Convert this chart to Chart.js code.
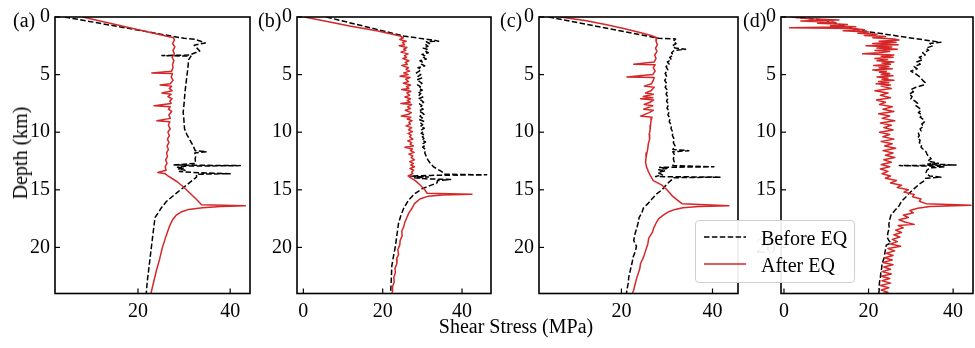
<!DOCTYPE html>
<html>
<head>
<meta charset="utf-8">
<script src="https://cdn.jsdelivr.net/npm/chart.js@4.4.1/dist/chart.umd.min.js"></script>
<style>
  body { margin: 0; background: #fff; }
  #wrap { position: relative; width: 975px; height: 348px; overflow: hidden;
          font-family: "Liberation Serif", "DejaVu Serif", serif; color: #000; }
  .panel { position: absolute; top: 0; }
  .lbl { position: absolute; font-size: 20px; line-height: 20px; white-space: nowrap; }
  #legend { position: absolute; left: 695px; top: 220px; width: 158px; height: 61px;
            border: 1px solid #cfcfcf; border-radius: 4px; background: rgba(255,255,255,0.92); }
</style>
</head>
<body>
<div id="wrap">
  <canvas id="pa" class="panel"></canvas>
  <canvas id="pb" class="panel"></canvas>
  <canvas id="pc" class="panel"></canvas>
  <canvas id="pd" class="panel"></canvas>

  <div class="lbl" style="left:13px;top:10px">(a)</div>
  <div class="lbl" style="left:258px;top:10px">(b)</div>
  <div class="lbl" style="left:500px;top:10px">(c)</div>
  <div class="lbl" style="left:743px;top:10px">(d)</div>

  <div class="lbl" style="left:20px;top:153px;transform:translate(-50%,-50%) rotate(-90deg)">Depth (km)</div>
  <div class="lbl" style="left:516px;top:326px;transform:translate(-50%,-50%)">Shear Stress (MPa)</div>

  <div id="legend">
    <svg width="158" height="61" style="position:absolute;left:0;top:0">
      <line x1="8" y1="16" x2="50" y2="16" stroke="#000" stroke-width="1.6" stroke-dasharray="5.5 2.4"/>
      <line x1="8" y1="43" x2="50" y2="43" stroke="rgb(214,39,40)" stroke-width="1.6"/>
    </svg>
    <div class="lbl" style="left:65px;top:7px">Before EQ</div>
    <div class="lbl" style="left:65px;top:34px">After EQ</div>
  </div>
</div>

<script>
// tick values
const depthTicks = [0, 5, 10, 15, 20];
const stressTicksA = [20, 40];
const stressTicksB = [0, 20, 40];
const stressTicksC = [20, 40];
const stressTicksD = [0, 20, 40];

// [depth km, shear stress MPa]
const beforeA = [[0,4.1],[1.85,30],[1.95,32.5],[2.25,34.6],[2.45,32.2],[2.7,32.8],[2.95,33.4],[3.3,31.2],[3.35,25.2],[3.4,31.5],[3.7,31.0],[4.5,30.8],[5.5,30.5],[6.5,30.2],[7.5,30.0],[8.3,29.8],[8.6,29.9],[9.7,30.1],[10.2,30.6],[10.7,31.3],[11.2,32.0],[11.6,32.4],[11.7,34.9],[11.8,32.3],[12.0,32.6],[12.3,32.4],[12.7,32.5],[12.85,27.7],[12.9,42.2],[12.95,29.0],[13.05,28.6],[13.1,30.0],[13.2,28.8],[13.3,30.2],[13.4,29.0],[13.5,32.0],[13.6,40.0],[13.65,32.7],[13.9,32.7],[14.5,30.8],[15.2,28.6],[16.0,26.2],[16.6,25.0],[17.0,24.4],[17.4,23.7],[19,23.2],[21,22.6],[23,22.0],[24,21.8]];
const afterA = [[0,8.0],[1.8,27.7],[2.0,27.9],[2.3,27.5],[2.6,28.0],[2.9,27.6],[3.2,27.9],[3.5,27.4],[3.8,27.8],[4.1,27.5],[4.4,27.6],[4.7,27.3],[4.85,23.0],[4.9,27.5],[5.2,27.2],[5.5,27.6],[5.8,27.0],[5.9,24.8],[6.0,27.3],[6.2,26.8],[6.4,27.4],[6.6,25.2],[6.7,27.2],[6.9,26.5],[7.1,27.4],[7.3,26.9],[7.5,27.2],[7.7,23.5],[7.8,27.0],[8.0,26.6],[8.2,27.3],[8.5,26.7],[8.8,27.0],[9.0,24.1],[9.1,26.9],[9.4,26.6],[9.7,27.0],[10.0,26.5],[10.3,26.8],[10.6,26.4],[10.9,26.7],[11.2,26.3],[11.5,26.6],[11.8,26.2],[12.1,26.4],[12.4,26.0],[12.7,26.3],[13.0,25.9],[13.3,26.1],[13.5,24.3],[13.6,25.9],[13.8,26.5],[14.3,28.5],[14.8,30.0],[15.3,31.3],[15.8,32.6],[16.3,33.8],[16.38,43.3],[16.45,38.0],[16.55,34.0],[16.7,31.0],[16.9,29.5],[17.2,28.3],[17.6,27.5],[18.2,26.8],[19.0,26.1],[20.0,25.3],[21.0,24.7],[22.0,24.0],[23.0,23.4],[24,22.8]];

const beforeB = [[0,5.8],[1.65,25.3],[2.05,33.5],[2.1,34.1],[2.15,31.0],[2.3,31.8],[2.4,30.9],[2.55,31.4],[2.7,30.2],[2.8,31.2],[2.95,30.6],[3.1,31.5],[3.25,29.9],[3.4,30.8],[3.5,30.3],[3.65,31.0],[3.8,29.4],[3.95,30.2],[4.1,29.8],[4.25,30.6],[4.4,28.9],[4.55,29.7],[4.7,29.2],[4.85,28.5],[5.0,29.6],[5.15,28.9],[5.3,29.8],[5.45,28.6],[5.6,29.3],[5.75,29.9],[5.9,28.8],[6.05,29.5],[6.2,29.1],[6.35,30.0],[6.5,28.9],[6.65,29.6],[6.8,29.2],[6.95,30.1],[7.1,29.0],[7.25,29.8],[7.4,30.3],[7.55,29.3],[7.7,29.9],[7.85,29.4],[8.0,30.2],[8.15,29.1],[8.3,29.9],[8.45,30.4],[8.6,29.4],[8.75,30.0],[8.9,29.2],[9.05,30.3],[9.2,29.6],[9.35,30.1],[9.5,29.5],[9.65,30.5],[9.8,29.8],[9.95,30.2],[10.1,29.7],[10.25,30.6],[10.4,30.0],[10.55,30.4],[10.7,29.9],[10.85,30.8],[11.0,30.2],[11.15,30.6],[11.3,30.1],[11.5,30.8],[11.8,30.6],[12.1,31.0],[12.4,31.4],[12.7,32.0],[13.0,32.8],[13.2,33.8],[13.45,35.0],[13.65,35.4],[13.7,46.2],[13.75,32.0],[13.8,27.0],[13.88,31.5],[13.95,28.0],[14.05,31.0],[14.1,37.1],[14.2,33.8],[14.4,33.7],[14.9,30.0],[15.3,28.2],[15.9,26.5],[16.6,25.3],[17.2,24.6],[17.9,24.0],[18.9,23.6],[19.9,23.2],[20.8,22.7],[21.6,22.3],[22.5,22.2],[23.3,22.1],[24,22.0]];
const afterB = [[0,0.3],[0.4,6.0],[0.8,12.0],[1.2,18.5],[1.65,24.4],[1.8,25.2],[1.95,24.3],[2.1,25.9],[2.2,25.0],[2.4,25.5],[2.5,24.2],[2.65,26.1],[2.8,25.3],[2.9,25.8],[3.05,24.6],[3.2,26.4],[3.35,25.5],[3.5,26.0],[3.6,25.1],[3.8,26.6],[3.95,25.7],[4.1,26.2],[4.2,24.8],[4.4,26.5],[4.55,25.9],[4.7,26.8],[4.85,25.3],[5.0,26.4],[5.15,24.4],[5.25,26.9],[5.4,25.8],[5.6,26.5],[5.75,25.2],[5.9,27.0],[6.05,26.0],[6.2,26.6],[6.3,24.8],[6.45,27.1],[6.6,26.1],[6.8,26.8],[6.95,25.6],[7.1,27.0],[7.25,26.2],[7.4,26.9],[7.5,24.6],[7.6,27.3],[7.8,26.3],[7.95,27.0],[8.1,25.7],[8.3,27.2],[8.45,26.5],[8.6,24.7],[8.7,27.1],[8.85,26.2],[9.0,27.4],[9.15,26.6],[9.3,27.0],[9.45,25.9],[9.6,27.3],[9.8,26.5],[9.95,27.5],[10.1,26.4],[10.25,27.2],[10.4,26.8],[10.6,27.6],[10.75,26.3],[10.9,27.3],[11.05,26.9],[11.2,27.7],[11.3,25.6],[11.45,27.5],[11.6,27.0],[11.75,27.9],[11.9,26.6],[12.05,27.6],[12.2,27.2],[12.4,28.0],[12.55,26.8],[12.7,27.7],[12.85,27.1],[13.0,28.0],[13.15,26.9],[13.3,27.8],[13.45,27.3],[13.6,27.6],[13.8,26.4],[13.95,27.0],[14.2,28.2],[14.6,29.5],[15.0,30.6],[15.3,31.2],[15.38,42.5],[15.45,35.0],[15.55,31.5],[15.8,29.4],[16.2,28.0],[16.6,27.4],[17.0,26.6],[17.4,26.1],[17.8,25.6],[18.2,25.3],[18.6,24.8],[19.0,24.9],[19.4,24.4],[19.8,24.3],[20.2,23.8],[20.6,24.0],[21.0,23.5],[21.4,23.6],[21.8,23.1],[22.2,23.2],[22.6,22.8],[23.0,22.9],[23.4,22.5],[23.8,22.5],[24,22.3]];

const beforeC = [[0,4.0],[1.85,28.2],[1.9,31.9],[2.1,31.4],[2.3,32.0],[2.5,31.2],[2.7,31.8],[2.8,34.1],[2.9,31.6],[3.1,31.0],[3.3,31.4],[3.5,30.6],[3.7,31.0],[3.9,30.1],[4.1,30.5],[4.3,29.8],[4.6,30.2],[4.9,29.6],[5.2,30.0],[5.5,29.5],[5.8,30.0],[6.1,29.6],[6.4,30.2],[6.7,29.8],[7.0,30.3],[7.3,29.9],[7.6,30.4],[7.9,30.0],[8.2,30.5],[8.5,30.2],[8.8,30.7],[9.1,30.5],[9.4,31.0],[9.7,30.9],[10.0,31.3],[10.3,31.2],[10.6,31.6],[10.9,31.4],[11.2,31.8],[11.5,31.3],[11.6,34.8],[11.7,31.3],[12.0,31.7],[12.3,31.4],[12.6,31.6],[12.9,31.3],[13.0,40.3],[13.05,28.4],[13.15,30.0],[13.25,28.2],[13.35,29.6],[13.5,28.0],[13.7,29.0],[13.85,27.5],[13.9,41.8],[13.95,31.5],[14.1,31.1],[14.5,30.0],[15.0,28.9],[15.4,27.6],[15.8,26.7],[16.2,25.8],[16.6,24.8],[17.0,24.5],[17.4,23.9],[17.8,23.7],[18.3,23.4],[18.8,23.0],[19.4,22.7],[19.9,23.3],[20.3,23.1],[20.8,22.6],[21.4,22.3],[21.9,22.0],[22.6,21.6],[23.1,21.5],[23.7,21.2],[24,21.1]];
const afterC = [[0,6.5],[0.3,12.0],[0.66,16.5],[1.0,20.5],[1.37,24.3],[1.6,26.5],[1.8,27.8],[2.1,27.6],[2.4,27.9],[2.7,27.5],[3.0,27.8],[3.3,27.3],[3.6,27.6],[3.9,27.2],[4.1,22.7],[4.15,27.4],[4.4,27.0],[4.7,27.4],[5.0,26.9],[5.2,21.2],[5.25,27.2],[5.5,27.0],[5.8,26.6],[6.0,25.0],[6.1,27.2],[6.4,26.5],[6.6,25.3],[6.7,27.0],[6.9,24.8],[7.0,26.9],[7.1,24.2],[7.2,27.1],[7.4,26.3],[7.6,25.0],[7.7,26.9],[8.0,24.9],[8.1,27.0],[8.3,26.1],[8.6,24.2],[8.7,26.7],[9.0,26.5],[9.4,26.4],[9.8,26.3],[10.2,26.1],[10.6,26.2],[11.0,25.9],[11.4,25.8],[11.8,25.6],[12.2,25.4],[12.6,25.3],[13.0,25.5],[13.4,25.9],[13.8,26.4],[14.2,27.0],[14.6,28.9],[15.0,30.0],[15.5,31.1],[15.9,32.3],[16.2,33.3],[16.38,43.6],[16.45,37.0],[16.55,33.5],[16.7,31.8],[16.9,30.4],[17.2,29.2],[17.5,28.2],[17.9,27.6],[18.3,27.1],[18.7,26.8],[19.2,26.0],[19.7,25.8],[20.3,25.3],[20.8,24.9],[21.4,24.2],[21.9,24.0],[22.6,23.4],[23.2,23.0],[23.7,22.7],[24,22.4]];

const beforeD = [[0,2.0],[0.25,9.5],[1.2,18.5],[2.2,37.1],[2.3,34.5],[2.5,35.2],[2.7,33.6],[2.9,34.2],[3.1,32.8],[3.3,33.4],[3.5,32.0],[3.7,32.8],[3.9,31.4],[4.1,32.2],[4.3,30.8],[4.5,31.5],[4.7,30.0],[4.9,31.0],[5.1,31.8],[5.3,32.4],[5.5,32.8],[5.7,33.4],[5.9,33.0],[6.1,31.2],[6.3,30.0],[6.5,30.6],[6.7,29.6],[6.9,30.3],[7.1,30.0],[7.3,31.0],[7.5,31.6],[7.7,31.2],[7.9,32.0],[8.1,32.4],[8.3,31.8],[8.5,32.6],[8.7,32.2],[8.9,33.0],[9.1,33.2],[9.3,32.6],[9.5,33.0],[9.7,32.2],[9.9,32.4],[10.1,31.8],[10.3,32.0],[10.5,31.6],[10.7,32.2],[10.9,32.0],[11.1,32.6],[11.3,32.4],[11.5,33.0],[11.7,33.6],[11.9,33.8],[12.1,34.2],[12.3,34.8],[12.5,34.0],[12.7,36.5],[12.75,34.0],[12.85,40.7],[12.9,27.3],[12.95,35.5],[13.0,38.0],[13.1,34.5],[13.3,33.8],[13.5,33.6],[13.8,34.4],[13.9,37.1],[14.0,33.5],[14.2,33.2],[14.5,32.0],[14.9,30.8],[15.3,29.6],[15.6,28.9],[16.0,27.8],[16.4,27.2],[16.8,26.2],[17.2,25.3],[17.6,25.0],[18.0,24.8],[18.3,24.9],[18.7,24.6],[19.1,24.4],[19.4,24.8],[19.6,25.3],[19.8,24.2],[20.2,24.0],[20.6,23.8],[20.9,23.7],[21.4,23.2],[21.8,23.1],[22.2,22.9],[22.6,22.8],[23.0,22.6],[23.4,22.5],[23.8,22.5],[24,22.4]];
const afterD = [[0,1.7],[0.15,6.0],[0.25,13.0],[0.35,4.0],[0.45,12.0],[0.55,8.0],[0.65,15.0],[0.75,11.0],[0.85,17.0],[0.94,1.3],[1.0,16.0],[1.1,19.0],[1.2,14.0],[1.3,20.0],[1.4,17.5],[1.5,22.0],[1.6,19.0],[1.7,24.0],[1.8,21.0],[1.9,26.0],[2.0,27.2],[2.1,22.5],[2.2,26.5],[2.3,21.0],[2.4,27.0],[2.5,19.4],[2.6,25.5],[2.7,22.0],[2.8,26.8],[2.9,21.5],[3.0,25.0],[3.1,22.4],[3.2,18.6],[3.3,26.0],[3.4,23.0],[3.5,25.8],[3.6,21.5],[3.7,24.5],[3.8,22.0],[3.9,26.0],[4.0,23.2],[4.1,25.2],[4.2,21.2],[4.3,24.8],[4.4,22.5],[4.5,25.6],[4.6,21.0],[4.7,24.2],[4.8,22.6],[4.9,25.0],[5.0,23.0],[5.1,25.8],[5.2,22.0],[5.3,24.6],[5.4,23.2],[5.5,26.0],[5.6,22.4],[5.7,24.8],[5.8,21.8],[5.9,25.2],[6.0,23.0],[6.2,25.4],[6.4,21.5],[6.6,24.6],[6.8,22.8],[7.0,25.2],[7.2,21.9],[7.4,24.0],[7.6,22.6],[7.8,25.6],[8.0,23.4],[8.2,26.0],[8.4,22.4],[8.6,25.0],[8.8,23.2],[9.0,26.2],[9.2,22.8],[9.4,25.4],[9.6,23.6],[9.8,25.8],[10.0,22.6],[10.2,25.0],[10.4,23.4],[10.6,26.0],[10.8,23.0],[11.0,25.6],[11.2,23.8],[11.4,26.4],[11.6,23.4],[11.8,25.8],[12.0,24.0],[12.2,26.2],[12.4,23.6],[12.6,25.4],[12.8,23.0],[13.0,25.0],[13.2,22.8],[13.4,24.6],[13.6,23.2],[13.8,25.2],[14.0,24.0],[14.2,26.6],[14.4,25.2],[14.6,27.8],[14.8,26.8],[15.0,29.4],[15.2,28.4],[15.4,30.8],[15.6,30.4],[15.8,32.4],[16.0,32.0],[16.2,33.6],[16.35,44.2],[16.45,34.5],[16.6,31.6],[16.8,29.8],[17.0,30.6],[17.2,28.2],[17.4,29.4],[17.6,27.2],[17.8,28.6],[18.0,30.8],[18.1,27.0],[18.3,28.2],[18.5,26.4],[18.7,27.8],[18.9,26.0],[19.1,27.4],[19.3,25.6],[19.5,26.8],[19.7,25.2],[19.9,27.6],[20.1,24.6],[20.3,26.2],[20.5,24.2],[20.7,25.8],[20.9,23.8],[21.1,25.6],[21.3,23.4],[21.5,25.8],[21.7,23.6],[21.9,25.2],[22.1,23.2],[22.3,25.4],[22.5,23.0],[22.7,25.0],[22.9,23.2],[23.1,25.2],[23.3,22.8],[23.5,24.8],[23.7,23.0],[23.9,24.6],[24,23.4]];

const FONT = { family: '"Liberation Serif", "DejaVu Serif", serif', size: 20 };
const RED = 'rgb(214,39,40)';

// frame and inward ticks, matplotlib style
const frameTicks = {
  id: 'frameTicks',
  afterDraw(chart) {
    const { ctx, chartArea: a, scales } = chart;
    ctx.save();
    ctx.strokeStyle = '#000';
    ctx.lineWidth = 1.2;
    scales.x.ticks.forEach(t => {
      const px = scales.x.getPixelForValue(t.value);
      ctx.beginPath(); ctx.moveTo(px, a.bottom); ctx.lineTo(px, a.bottom - 5); ctx.stroke();
    });
    scales.y.ticks.forEach(t => {
      const py = scales.y.getPixelForValue(t.value);
      ctx.beginPath(); ctx.moveTo(a.left, py); ctx.lineTo(a.left + 5, py); ctx.stroke();
    });
    ctx.lineWidth = 1.6;
    ctx.strokeRect(a.left, a.top, a.right - a.left, a.bottom - a.top);
    ctx.restore();
  }
};

const toXY = arr => arr.map(([d, s]) => ({ x: s, y: d }));

function makePanel(id, left, right, xMin, xMax, xTicks, before, after) {
  const yAxisW = 50;
  const canvas = document.getElementById(id);
  canvas.width = right - left + yAxisW + 4;
  canvas.height = 348;
  canvas.style.left = (left - yAxisW) + 'px';

  new Chart(canvas, {
    type: 'scatter',
    data: {
      datasets: [
        { data: toXY(after), borderColor: RED, borderWidth: 1.5, order: 0 },
        { data: toXY(before), borderColor: '#000', borderWidth: 1.5, borderDash: [5.5, 2.4], order: 1 }
      ]
    },
    options: {
      responsive: false,
      animation: false,
      devicePixelRatio: 1,
      events: [],
      showLine: true,
      layout: { padding: { left: 0, right: 4, top: 12, bottom: 0 } },
      elements: {
        point: { radius: 0 },
        line: { tension: 0, borderJoinStyle: 'round', fill: false }
      },
      plugins: { legend: { display: false }, tooltip: { enabled: false } },
      scales: {
        x: {
          type: 'linear', min: xMin, max: xMax,
          grid: { display: false, drawTicks: false },
          border: { display: false },
          ticks: { color: '#000', font: FONT, padding: 6, autoSkip: false, maxRotation: 0 },
          afterBuildTicks: ax => { ax.ticks = xTicks.map(v => ({ value: v })); },
          afterFit: ax => { ax.height = 54.5; }
        },
        y: {
          type: 'linear', reverse: true, min: 0, max: 24,
          grid: { display: false, drawTicks: false },
          border: { display: false },
          ticks: { color: '#000', font: FONT, padding: 5, autoSkip: false },
          afterBuildTicks: ax => { ax.ticks = depthTicks.map(v => ({ value: v })); },
          afterFit: ax => { ax.width = yAxisW; }
        }
      }
    },
    plugins: [frameTicks]
  });
}

makePanel('pa', 55, 250, 2.0, 44.3, stressTicksA, beforeA, afterA);
makePanel('pb', 297, 491, -1.6, 47.3, stressTicksB, beforeB, afterB);
makePanel('pc', 539, 738, 1.9, 45.6, stressTicksC, beforeC, afterC);
makePanel('pd', 781, 973, -0.7, 44.7, stressTicksD, beforeD, afterD);
</script>
</body>
</html>
